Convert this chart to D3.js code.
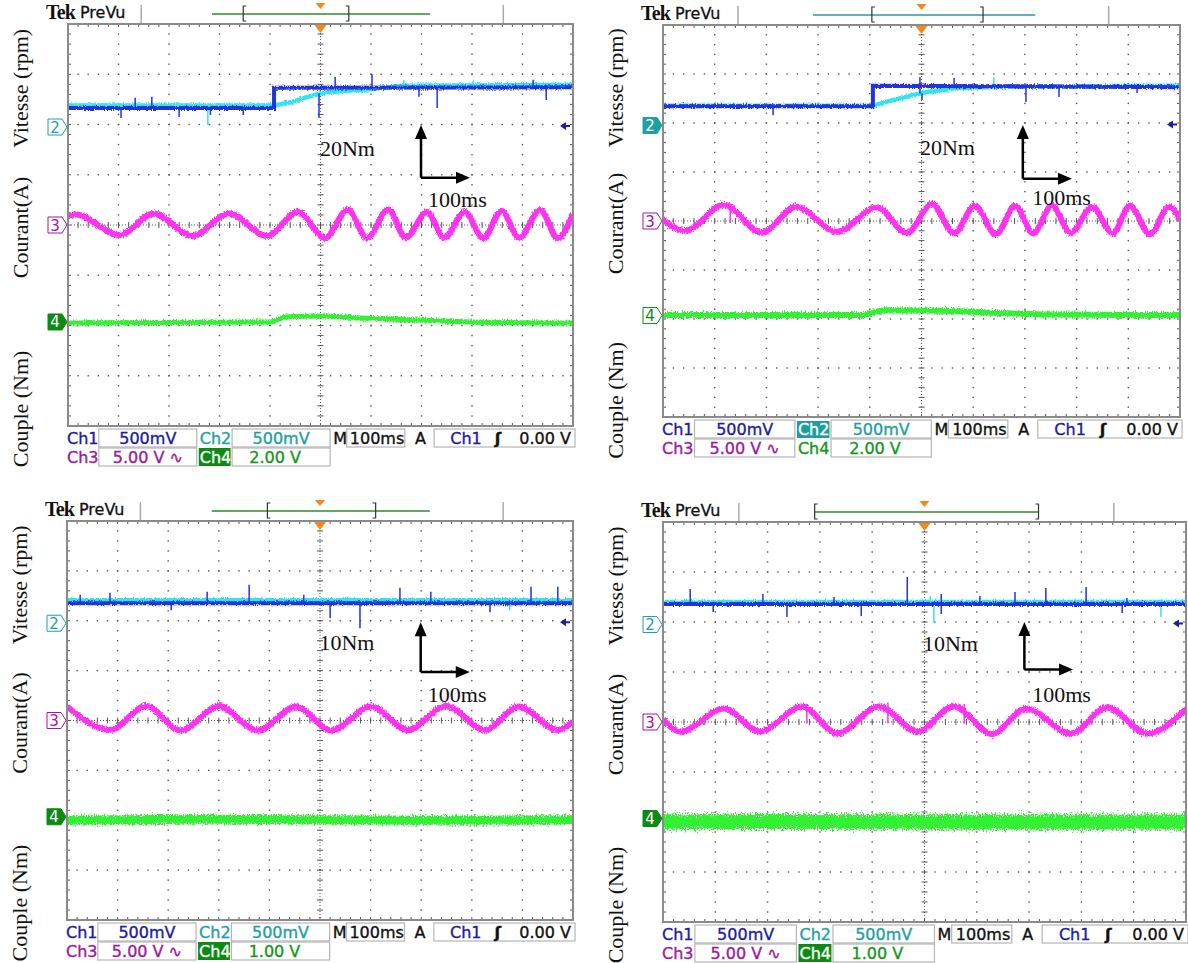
<!DOCTYPE html>
<html><head><meta charset="utf-8">
<script src="https://cdn.jsdelivr.net/npm/d3@7"></script>
<style>body{margin:0;background:#fff} svg{display:block}</style>
</head><body>
<svg id="c" width="1188" height="963"></svg>
<script>
// ---------- DATA (oscilloscope divisions: x -5..5, y -4..4) ----------
const tlSpeedCh1 = [[-5,2.33],[-0.92,2.33],[-0.92,2.73],[5,2.74]];
const tlSpeedCh2 = [[-5,2.38],[-0.92,2.38],[-0.56,2.45],[-0.25,2.55],[0.01,2.62],[0.5,2.67],[0.96,2.70],[1.65,2.77],[5,2.79]];
const tlSpikesCh1 = [[-3.95,2.33,2.13],[-3.67,2.33,2.53],[-3.34,2.33,2.55],[-2.80,2.33,2.15],[-2.18,2.33,2.19],[-1.53,2.33,2.19],[-0.03,2.62,2.13],[0.29,2.73,2.95],[1.02,2.73,3.0],[1.95,2.73,2.55],[2.31,2.73,2.33],[4.21,2.74,2.89],[4.47,2.74,2.49]];
const tlSpikesCh2 = [[-2.23,2.38,1.99],[1.65,2.77,2.89],[3.02,2.78,2.89]];
const tlCurrent = [[-5,0.18],[-4.85,0.21],[-3.98,-0.20],[-3.30,0.23],[-2.54,-0.22],[-1.81,0.23],[-1.06,-0.22],[-0.45,0.26],[0.09,-0.26],[0.54,0.31],[0.92,-0.26],[1.34,0.31],[1.69,-0.25],[2.11,0.26],[2.45,-0.25],[2.86,0.26],[3.22,-0.26],[3.59,0.28],[3.93,-0.26],[4.35,0.30],[4.70,-0.26],[5,0.23]];
const tlCurrentGlitch = [];
const tlTorque = [[-5,-1.95],[-1.0,-1.93],[-0.70,-1.83],[0,-1.81],[0.78,-1.85],[1.97,-1.89],[2.96,-1.93],[5,-1.95]];

const trSpeedCh1 = [[-5,2.34],[-0.94,2.34],[-0.94,2.76],[1.5,2.75],[5,2.73]];
const trSpeedCh2 = [[-5,2.35],[-0.94,2.35],[-0.69,2.43],[-0.24,2.55],[0.13,2.64],[0.71,2.71],[1.44,2.74],[5,2.76]];
const trSpikesCh1 = [[-2.87,2.34,2.16],[-0.03,2.6,2.94],[0.01,2.6,2.47],[0.63,2.72,2.92],[2.02,2.75,2.43],[2.66,2.75,2.53],[4.17,2.74,2.61]];
const trSpikesCh2 = [[1.40,2.74,2.92]];
const trCurrent = [[-5,0.03],[-4.57,-0.20],[-3.82,0.33],[-3.09,-0.24],[-2.43,0.29],[-1.63,-0.22],[-0.86,0.28],[-0.28,-0.25],[0.20,0.35],[0.63,-0.25],[1.03,0.31],[1.44,-0.27],[1.81,0.31],[2.16,-0.25],[2.52,0.31],[2.89,-0.25],[3.30,0.29],[3.70,-0.25],[4.03,0.31],[4.42,-0.27],[4.79,0.29],[5,0.02]];
const trCurrentGlitch = [[-3.70,0.30,-0.04]];
const trTorque = [[-5,-1.92],[-1.19,-1.92],[-0.69,-1.82],[0.36,-1.83],[1.52,-1.88],[2.49,-1.91],[5,-1.92]];

const blSpeedCh1 = [[-5,2.35],[5,2.35]];
const blSpeedCh2 = [[-5,2.41],[5,2.41]];
const blSpikesCh1 = [[-4.74,2.35,2.52],[-4.15,2.35,2.56],[-2.94,2.35,2.21],[-2.23,2.35,2.58],[-1.40,2.35,2.72],[-0.32,2.35,2.52],[0.20,2.35,2.05],[0.79,2.35,1.85],[1.58,2.35,2.66],[2.19,2.35,2.58],[3.36,2.35,2.17],[4.17,2.35,2.68],[4.70,2.35,2.68]];
const blSpikesCh2 = [[3.75,2.41,2.21]];
const blCurrent = [[-5,0.28],[-4.15,-0.19],[-3.44,0.29],[-2.75,-0.20],[-2.00,0.29],[-1.23,-0.20],[-0.47,0.28],[0.22,-0.20],[1.01,0.28],[1.74,-0.19],[2.49,0.29],[3.26,-0.19],[3.93,0.28],[4.70,-0.19],[5,-0.02]];
const blCurrentGlitch = [];
const blTorque = [[-5,-2.0],[-2.5,-1.98],[0,-1.99],[2.5,-2.0],[5,-1.99]];

const brSpeedCh1 = [[-5,2.36],[5,2.36]];
const brSpeedCh2 = [[-5,2.40],[5,2.40]];
const brSpikesCh1 = [[-4.48,2.36,2.66],[-4.04,2.36,2.20],[-3.09,2.36,2.56],[-2.63,2.36,2.10],[-1.73,2.36,2.50],[-1.21,2.36,2.12],[-0.33,2.36,2.90],[0.32,2.16,2.56],[1.06,2.36,2.52],[1.73,2.36,2.60],[2.32,2.36,2.68],[3.09,2.36,2.70],[3.78,2.36,2.18],[3.87,2.36,2.48]];
const brSpikesCh2 = [[0.11,2.40,2.50],[0.18,2.40,1.98],[4.52,2.40,2.10]];
const brCurrent = [[-5,0.05],[-4.66,-0.19],[-3.83,0.27],[-3.15,-0.19],[-2.34,0.31],[-1.67,-0.23],[-0.87,0.31],[-0.14,-0.19],[0.56,0.31],[1.29,-0.24],[1.94,0.27],[2.80,-0.23],[3.49,0.29],[4.26,-0.23],[5,0.26]];
const brCurrentGlitch = [[-2.25,0.30,-0.03],[-0.70,0.39,-0.03],[0.76,0.36,-0.03]];
const brTorque = [[-5,-2.0],[-2.5,-1.99],[0,-2.0],[2.5,-2.0],[5,-2.0]];

// channel reference markers (div): ch2, ch3, ch4
const markerLevels = [1.95, 0, -1.93];
const axisLabels = ["Vitesse (rpm)", "Courant(A)", "Couple (Nm)"];
const axisLabelLevels = [2.72, -0.05, -3.66];
const torqueLabels = ["20Nm", "20Nm", "10Nm", "10Nm"];
const ch4Scales = ["2.00 V", "2.00 V", "1.00 V", "1.00 V"];
const statusTexts = {ch1:"500mV", ch2:"500mV", ch3:"5.00 V \u223F", time:"100ms", trig:"0.00 V"};

// ---------- LAYOUT ----------
const panels = [
 {box:[68,573,24,426], s1:tlSpeedCh1, s2:tlSpeedCh2, k1:tlSpikesCh1, k2:tlSpikesCh2, cur:tlCurrent, cg:tlCurrentGlitch, tq:tlTorque, tqF:"jt1", tqW:5,
  hl:"ch4", tline:[0.285,0.717], br:[0.347,0.556], tcol:"#2f8a2f", ann:{tx:-0.01,ty:1.37,cx:1.99,cy:0.94,vy:1.99,hx:2.96,mx:2.13,my:0.36}},
 {box:[663,1180,25,417], s1:trSpeedCh1, s2:trSpeedCh2, k1:trSpikesCh1, k2:trSpikesCh2, cur:trCurrent, cg:trCurrentGlitch, tq:trTorque, tqF:"jt2", tqW:6,
  hl:"ch2", tline:[0.29,0.72], br:[0.404,0.619], tcol:"#2a9a9a", ann:{tx:-0.03,ty:1.35,cx:1.96,cy:0.86,vy:1.96,hx:2.91,mx:2.14,my:0.33}},
 {box:[67,573,521,920], s1:blSpeedCh1, s2:blSpeedCh2, k1:blSpikesCh1, k2:blSpikesCh2, cur:blCurrent, cg:blCurrentGlitch, tq:blTorque, tqF:"jt3", tqW:9,
  hl:"ch4", tline:[0.286,0.717], br:[0.396,0.610], tcol:"#2f8a2f", ann:{tx:-0.01,ty:1.41,cx:1.99,cy:0.97,vy:1.97,hx:2.96,mx:2.13,my:0.37}},
 {box:[663,1186,522,922], s1:brSpeedCh1, s2:brSpeedCh2, k1:brSpikesCh1, k2:brSpikesCh2, cur:brCurrent, cg:brCurrentGlitch, tq:brTorque, tqF:"jt4", tqW:15,
  hl:"ch4", tline:[0.29,0.718], br:[0.29,0.718], tcol:"#2f8a2f", ann:{tx:-0.03,ty:1.42,cx:1.91,cy:1.05,vy:2.0,hx:2.84,mx:2.06,my:0.40}}
];

const C = {ch1:"#1c1c9c", ch2:"#1ea0a0", ch3:"#a0189c", ch4:"#15961c", ch4bg:"#0c8a14", ch2bg:"#1e9e9e",
  tBlue:"#2233dd", tCyan:"#33e4f0", tMag:"#ff33f2", tGreen:"#33f033", orange:"#f08a1e", grid:"#555"};

const svg = d3.select("#c");
svg.append("rect").attr("width",1188).attr("height",963).attr("fill","#fff");
const defs = svg.append("defs");
function jitter(id, scale, freq, seed){
  const f = defs.append("filter").attr("id",id).attr("filterUnits","userSpaceOnUse")
    .attr("x",0).attr("y",0).attr("width",1188).attr("height",963);
  f.append("feTurbulence").attr("type","fractalNoise").attr("baseFrequency",freq).attr("numOctaves",2).attr("seed",seed).attr("result","n");
  f.append("feColorMatrix").attr("in","n").attr("type","matrix")
    .attr("values","0 0 0 0 0.5  0 1 0 0 0  0 0 1 0 0  0 0 0 0 1").attr("result","m");
  f.append("feDisplacementMap").attr("in","SourceGraphic").attr("in2","m").attr("scale",scale)
    .attr("xChannelSelector","R").attr("yChannelSelector","G");
}
jitter("js", 4, "0.9 0.5", 3);
jitter("jc", 6, "0.9 0.5", 5);
jitter("jt1", 5, "0.9 0.5", 7);
jitter("jt2", 6, "0.9 0.5", 9);
jitter("jt3", 9, "0.9 0.5", 11);
jitter("jt4", 14, "0.9 0.5", 13);

panels.forEach((p, pi) => {
  const [x0,x1,y0,y1] = p.box;
  const x = d3.scaleLinear().domain([-5,5]).range([x0,x1]);
  const y = d3.scaleLinear().domain([-4,4]).range([y1,y0]);
  const W = x1 - x0, fx = f => x0 + f*W;
  const g = svg.append("g");
  const cx = x(0);

  // ---- header ----
  g.append("text").attr("x",x0-22).attr("y",y0-5).attr("font-family","Liberation Serif").attr("font-weight","bold")
    .attr("font-size",20).attr("letter-spacing",-0.8).attr("fill","#111").text("Tek");
  g.append("text").attr("x",x0+12).attr("y",y0-6).attr("font-family","DejaVu Sans").attr("font-size",16).attr("fill","#111")
    .attr("stroke","#111").attr("stroke-width",0.3).text("PreVu");
  [0.145,0.862].forEach(f => g.append("line").attr("x1",fx(f)).attr("x2",fx(f)).attr("y1",y0-19).attr("y2",y0-1)
    .attr("stroke","#aaa").attr("stroke-width",1.5));
  g.append("line").attr("x1",fx(p.tline[0])).attr("x2",fx(p.tline[1])).attr("y1",y0-10).attr("y2",y0-10)
    .attr("stroke",p.tcol).attr("stroke-width",1.3);
  p.br.forEach((f,i) => {
    const bx = fx(f), d = i===0 ? 3 : -3;
    g.append("path").attr("d",`M${bx+d},${y0-18}H${bx}V${y0-3}H${bx+d}`).attr("fill","none").attr("stroke","#333").attr("stroke-width",1.2);
  });
  g.append("path").attr("d",`M${cx-5},${y0-21}L${cx+5},${y0-21}L${cx},${y0-15}Z`).attr("fill",C.orange);

  // ---- graticule ----
  const grid = g.append("g");
  const dotsY = d3.range(-4, 4.001, 0.2), dotsX = d3.range(-5, 5.001, 0.2);
  d3.range(-4,5).filter(v => v!==0).forEach(v => {
    grid.selectAll(null).data(dotsY).join("rect").attr("x",x(v)-0.7).attr("y",d=>y(d)-0.7).attr("width",1.4).attr("height",1.4).attr("fill",C.grid);
  });
  d3.range(-3,4).filter(v => v!==0).forEach(v => {
    grid.selectAll(null).data(dotsX).join("rect").attr("x",d=>x(d)-0.7).attr("y",y(v)-0.7).attr("width",1.4).attr("height",1.4).attr("fill",C.grid);
  });
  grid.append("line").attr("x1",cx).attr("x2",cx).attr("y1",y0).attr("y2",y1).attr("stroke",C.grid).attr("stroke-width",1).attr("stroke-dasharray","1,2");
  grid.append("line").attr("x1",x0).attr("x2",x1).attr("y1",y(0)).attr("y2",y(0)).attr("stroke",C.grid).attr("stroke-width",1).attr("stroke-dasharray","1,2");
  grid.selectAll(null).data(dotsY).join("line").attr("x1",cx-3).attr("x2",cx+3).attr("y1",d=>y(d)).attr("y2",d=>y(d)).attr("stroke",C.grid);
  grid.selectAll(null).data(dotsX).join("line").attr("y1",y(0)-3).attr("y2",y(0)+3).attr("x1",d=>x(d)).attr("x2",d=>x(d)).attr("stroke",C.grid);
  const minorX = d3.range(-5,5.001,0.2), minorY = d3.range(-4,4.001,0.2);
  grid.selectAll(null).data(minorX).join("line").attr("x1",d=>x(d)).attr("x2",d=>x(d)).attr("y1",y0).attr("y2",y0+3).attr("stroke",C.grid);
  grid.selectAll(null).data(minorX).join("line").attr("x1",d=>x(d)).attr("x2",d=>x(d)).attr("y1",y1-3).attr("y2",y1).attr("stroke",C.grid);
  grid.selectAll(null).data(minorY).join("line").attr("y1",d=>y(d)).attr("y2",d=>y(d)).attr("x1",x0).attr("x2",x0+3).attr("stroke",C.grid);
  grid.selectAll(null).data(minorY).join("line").attr("y1",d=>y(d)).attr("y2",d=>y(d)).attr("x1",x1-3).attr("x2",x1).attr("stroke",C.grid);
  g.append("rect").attr("x",x0).attr("y",y0).attr("width",W).attr("height",y1-y0).attr("fill","none").attr("stroke","#8a8a8a").attr("stroke-width",2);
  g.append("path").attr("d",`M${cx-6},${y0+1}L${cx+6},${y0+1}L${cx},${y0+9}Z`).attr("fill",C.orange);

  // ---- traces ----
  const clipId = "clip"+pi;
  defs.append("clipPath").attr("id",clipId).append("rect").attr("x",x0+1).attr("y",y0+1).attr("width",W-2).attr("height",y1-y0-2);
  const tr = g.append("g").attr("clip-path",`url(#${clipId})`);
  const lin = d3.line().x(d=>x(d[0])).y(d=>y(d[1]));
  const smooth = d3.line().x(d=>x(d[0])).y(d=>y(d[1])).curve(d3.curveMonotoneX);

  const sp2 = tr.append("g").attr("filter","url(#js)");
  sp2.append("path").attr("d",lin(p.s2)).attr("fill","none").attr("stroke",C.tCyan).attr("stroke-width",4.5);
  sp2.selectAll(null).data(p.k2).join("line").attr("x1",d=>x(d[0])).attr("x2",d=>x(d[0])).attr("y1",d=>y(d[1])).attr("y2",d=>y(d[2]))
    .attr("stroke",C.tCyan).attr("stroke-width",1.5);
  const sp1 = tr.append("g").attr("filter","url(#js)");
  sp1.append("path").attr("d",lin(p.s1)).attr("fill","none").attr("stroke",C.tBlue).attr("stroke-width",4);
  tr.selectAll(null).data(p.k1).join("line").attr("x1",d=>x(d[0])).attr("x2",d=>x(d[0])).attr("y1",d=>y(d[1])).attr("y2",d=>y(d[2]))
    .attr("stroke",C.tBlue).attr("stroke-width",1.5);

  const cu = tr.append("g").attr("filter","url(#jc)");
  cu.append("path").attr("d",smooth(p.cur)).attr("fill","none").attr("stroke",C.tMag).attr("stroke-width",6);
  tr.selectAll(null).data(p.cg).join("line").attr("x1",d=>x(d[0])).attr("x2",d=>x(d[0])).attr("y1",d=>y(d[1])).attr("y2",d=>y(d[2]))
    .attr("stroke",C.tMag).attr("stroke-width",1.5);

  const tq = tr.append("g").attr("filter",`url(#${p.tqF})`);
  tq.append("path").attr("d",smooth(p.tq)).attr("fill","none").attr("stroke",C.tGreen).attr("stroke-width",p.tqW);

  // ---- channel markers (left) ----
  const mk = [
    {lab:"2", col:C.ch2, filled: pi===1},
    {lab:"3", col:C.ch3, filled:false},
    {lab:"4", col:C.ch4bg, filled: pi!==1}
  ];
  mk.forEach((m,i) => {
    const my = y(markerLevels[i]);
    g.append("path").attr("d",`M${x0-20},${my-8}H${x0-6}L${x0-1},${my}L${x0-6},${my+8}H${x0-20}Z`)
      .attr("fill",m.filled?m.col:"#fff").attr("stroke",m.col).attr("stroke-width",1);
    g.append("text").attr("x",x0-13).attr("y",my+5.5).attr("text-anchor","middle").attr("font-family","DejaVu Sans")
      .attr("font-size",15).attr("fill",m.filled?"#fff":m.col).text(m.lab);
  });
  const ty = y(1.97);
  g.append("path").attr("d",`M${x1-13},${ty}L${x1-7},${ty-4}L${x1-7},${ty+4}Z`).attr("fill",C.ch1);
  g.append("line").attr("x1",x1-8).attr("x2",x1-3).attr("y1",ty).attr("y2",ty).attr("stroke",C.ch1).attr("stroke-width",2);

  // ---- axis labels (rotated) ----
  axisLabels.forEach((t,i) => {
    const ly = y(axisLabelLevels[i]), lx = x0-40;
    g.append("text").attr("transform",`translate(${lx},${ly}) rotate(-90)`).attr("text-anchor","middle")
      .attr("font-family","Liberation Serif").attr("font-size",22).attr("fill","#111").text(t);
  });

  // ---- annotation ----
  const a = p.ann;
  g.append("text").attr("x",x(a.tx)).attr("y",y(a.ty)).attr("font-family","Liberation Serif").attr("font-size",22).attr("fill","#111").text(torqueLabels[pi]);
  g.append("text").attr("x",x(a.mx)).attr("y",y(a.my)).attr("font-family","Liberation Serif").attr("font-size",22).attr("fill","#111").text("100ms");
  const ax = x(a.cx), ay = y(a.cy), vy = y(a.vy), hx = x(a.hx);
  g.append("path").attr("d",`M${ax},${ay}V${vy+12}M${ax},${ay}H${hx-12}`).attr("fill","none").attr("stroke","#000").attr("stroke-width",2.5);
  g.append("path").attr("d",`M${ax},${vy}L${ax-6},${vy+14}L${ax+6},${vy+14}Z`).attr("fill","#000");
  g.append("path").attr("d",`M${hx},${ay}L${hx-14},${ay-6}L${hx-14},${ay+6}Z`).attr("fill","#000");

  // ---- status bar ----
  const r1 = y1+3, r2 = y1+22, bh = 18;
  const boxes = [[0.061,0.255,r1],[0.325,0.519,r1],[0.552,0.667,r1],[0.725,1.004,r1],[0.061,0.255,r2],[0.325,0.519,r2]];
  boxes.forEach(b => g.append("rect").attr("x",fx(b[0])).attr("y",b[2]).attr("width",fx(b[1])-fx(b[0])).attr("height",bh)
    .attr("fill","#fff").attr("stroke","#b5b5b5").attr("stroke-width",1.2));
  const T = (tx, ty, s, col, anchor) => g.append("text").attr("x",tx).attr("y",ty).attr("font-family","DejaVu Sans")
    .attr("font-size",16).attr("fill",col).attr("stroke",col).attr("stroke-width",0.35).attr("text-anchor",anchor||"start").text(s);
  const b1 = r1+15, b2 = r2+15;
  T(x0-1, b1, "Ch1", C.ch1);
  T(fx(0.158), b1, statusTexts.ch1, C.ch1, "middle");
  if (p.hl==="ch2") g.append("rect").attr("x",fx(0.259)).attr("y",r1+1).attr("width",fx(0.322)-fx(0.259)).attr("height",bh-1).attr("fill",C.ch2bg);
  T(fx(0.261), b1, "Ch2", p.hl==="ch2" ? "#fff" : C.ch2);
  T(fx(0.422), b1, statusTexts.ch2, C.ch2, "middle");
  T(fx(0.525), b1, "M", "#111");
  T(fx(0.612), b1, statusTexts.time, "#111", "middle");
  T(fx(0.687), b1, "A", "#111");
  T(fx(0.757), b1, "Ch1", C.ch1);
  T(fx(0.845), b1, "\u0283", "#111").attr("font-weight","bold");
  T(fx(0.996), b1, statusTexts.trig, "#111", "end");
  T(x0-1, b2, "Ch3", C.ch3);
  T(fx(0.158), b2, statusTexts.ch3, C.ch3, "middle");
  if (p.hl==="ch4") g.append("rect").attr("x",fx(0.259)).attr("y",r2).attr("width",fx(0.322)-fx(0.259)).attr("height",bh).attr("fill",C.ch4bg);
  T(fx(0.261), b2, "Ch4", p.hl==="ch4" ? "#fff" : C.ch4);
  T(fx(0.41), b2, ch4Scales[pi], C.ch4, "middle");
});
</script>
</body></html>
